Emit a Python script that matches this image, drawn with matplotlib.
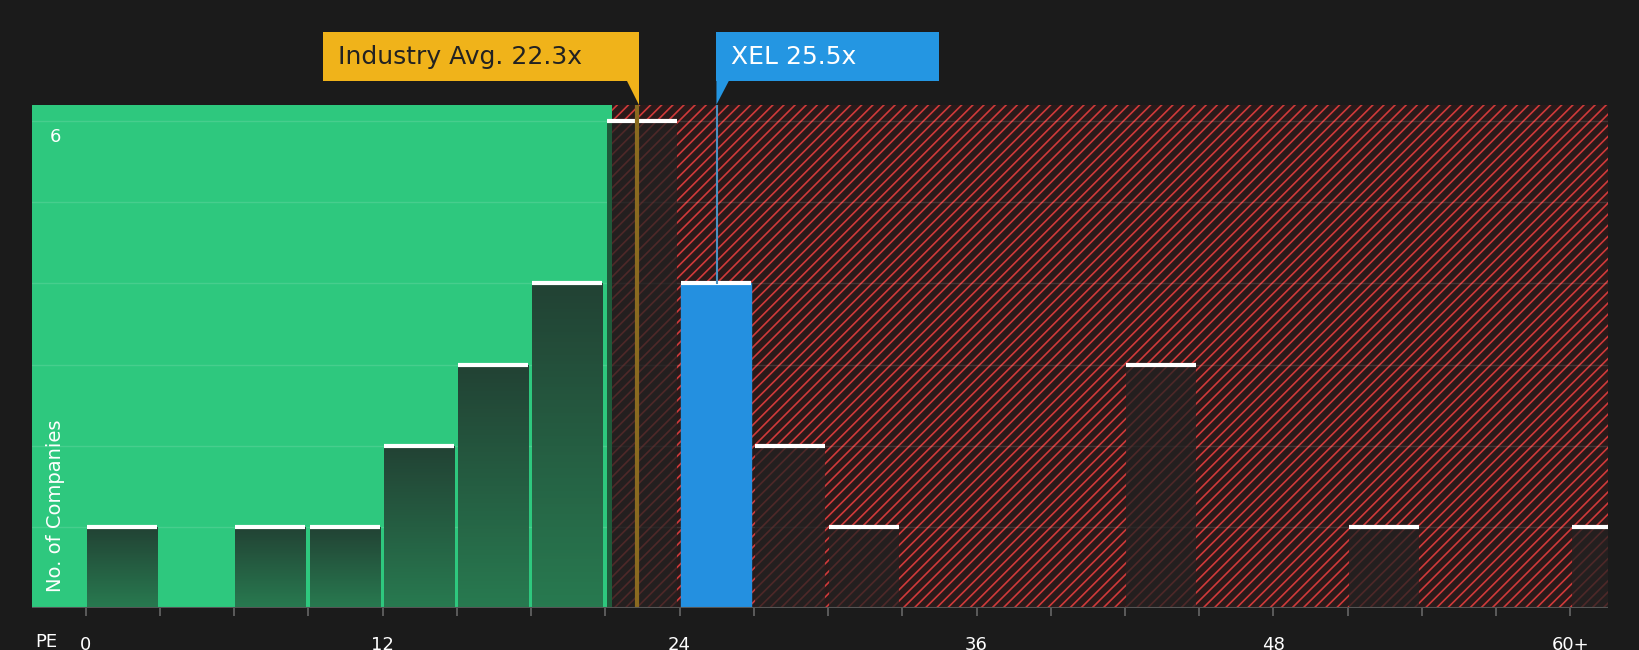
import matplotlib
matplotlib.use("Agg")
import matplotlib.pyplot as plt
import numpy as np
from matplotlib.patches import Rectangle, Polygon

bin_starts = [0, 6, 9, 12, 15, 18, 21, 24, 27, 30, 42, 51, 60]
counts     = [1, 1, 1, 2, 3, 4, 6, 4, 2, 1, 3, 1, 1]
industry_avg = 22.3
xel = 25.5
tick_vals = [0, 12, 24, 36, 48, 60]
tick_labels = ["0", "12", "24", "36", "48", "60+"]

W, H = 1568, 621
BG = "#1b1b1b"
plt.rcParams['hatch.linewidth'] = 1.2
fig = plt.figure(figsize=(16.4, 6.5), dpi=100, facecolor=BG)
ax = fig.add_axes([31/W, (H-581)/H, (1537-31)/W, (581-100)/H])
ax.set_facecolor(BG)
xmin, xmax, ymax = -2.15, 61.5, 6.2
ax.set_xlim(xmin, xmax); ax.set_ylim(0, ymax)

split = 21.25
ax.add_patch(Rectangle((xmin, 0), split - xmin, ymax, color="#2ec87e", zorder=0))
ax.add_patch(Rectangle((split, 0), xmax - split, ymax, facecolor="#2a1a1a", edgecolor="#d03a3a",
                       hatch="///", linewidth=0, zorder=0))
for y in range(1, 7):
    ax.axhline(y, color="white", alpha=0.12, lw=1, zorder=1)

grad = np.linspace(0, 1, 100).reshape(-1, 1)
cmap = matplotlib.colors.LinearSegmentedColormap.from_list("g", ["#287a50", "#224234"])
for s, c in zip(bin_starts, counts):
    x0, w = s + 0.05, 2.83
    if s == 24:
        ax.add_patch(Rectangle((x0, 0), w, c, color="#2490e0", zorder=3))
    elif s < 21:
        im = ax.imshow(grad, extent=(x0, x0 + w, 0, c), aspect="auto", origin="lower",
                       cmap=cmap, zorder=3)
        r = Rectangle((x0, 0), w, c, transform=ax.transData, facecolor="none", lw=0)
        ax.add_patch(r); im.set_clip_path(r)
    else:
        ax.add_patch(Rectangle((x0, 0), w, c, facecolor="#222", alpha=0.75, lw=0, zorder=3))
        if s == 21:
            ax.add_patch(Rectangle((x0, 0), split - x0, c, facecolor="#1f5a3a", lw=0, zorder=3))
    ax.plot([x0, x0 + w], [c, c], color="white", lw=3, zorder=4, solid_capstyle="butt")

ax.axvline(industry_avg, color="#8a6a20", lw=3, zorder=5)
ax.plot([xel, xel], [4, ymax], color="#4a90c0", lw=1.5, zorder=5)

for sp in ax.spines.values():
    sp.set_visible(False)
ax.axhline(0, color="#555", lw=1.5, zorder=6)
ax.set_yticks([])
ax.set_xticks(tick_vals)
ax.set_xticklabels(tick_labels, color="white", fontsize=13)
ax.set_xticks(np.arange(0, 61, 3), minor=True)
ax.tick_params(axis="x", which="both", colors="#666", length=6, width=1.2, labelcolor="white", pad=14)
ax.text(-1.2, 5.8, "6", color="white", fontsize=13, va="center", ha="center", zorder=7)
ax.text(-1.2, 0.2, "No. of Companies", color="white", fontsize=14, rotation=90, va="bottom", ha="center", zorder=7)
fig.text(34/W, 1 - 613/H, "PE", color="white", fontsize=13, va="center")

def box(x0, x1, color, text, tcolor, tip_x, tip_right):
    y0, y1 = 1 - 77/H, 1 - 31/H
    fig.patches.append(Rectangle((x0/W, y0), (x1 - x0)/W, y1 - y0, transform=fig.transFigure,
                                 facecolor=color, edgecolor="none"))
    if tip_right:
        pts = [(tip_x - 12, 77), (tip_x, 77), (tip_x, 100)]
    else:
        pts = [(tip_x, 77), (tip_x + 12, 77), (tip_x, 100)]
    fig.patches.append(Polygon([(px/W, 1 - py/H) for px, py in pts], closed=True,
                               transform=fig.transFigure, facecolor=color, edgecolor="none"))
    fig.text((x0 + 14)/W, (y0 + y1)/2, text, color=tcolor, fontsize=18, va="center", ha="left")

box(309, 611, "#f0b31a", f"Industry Avg. {industry_avg}x", "#222", 611, True)
box(685, 898, "#2496e2", f"XEL {xel}x", "white", 685, False)

fig.savefig("out.png", dpi=100, facecolor=BG)
